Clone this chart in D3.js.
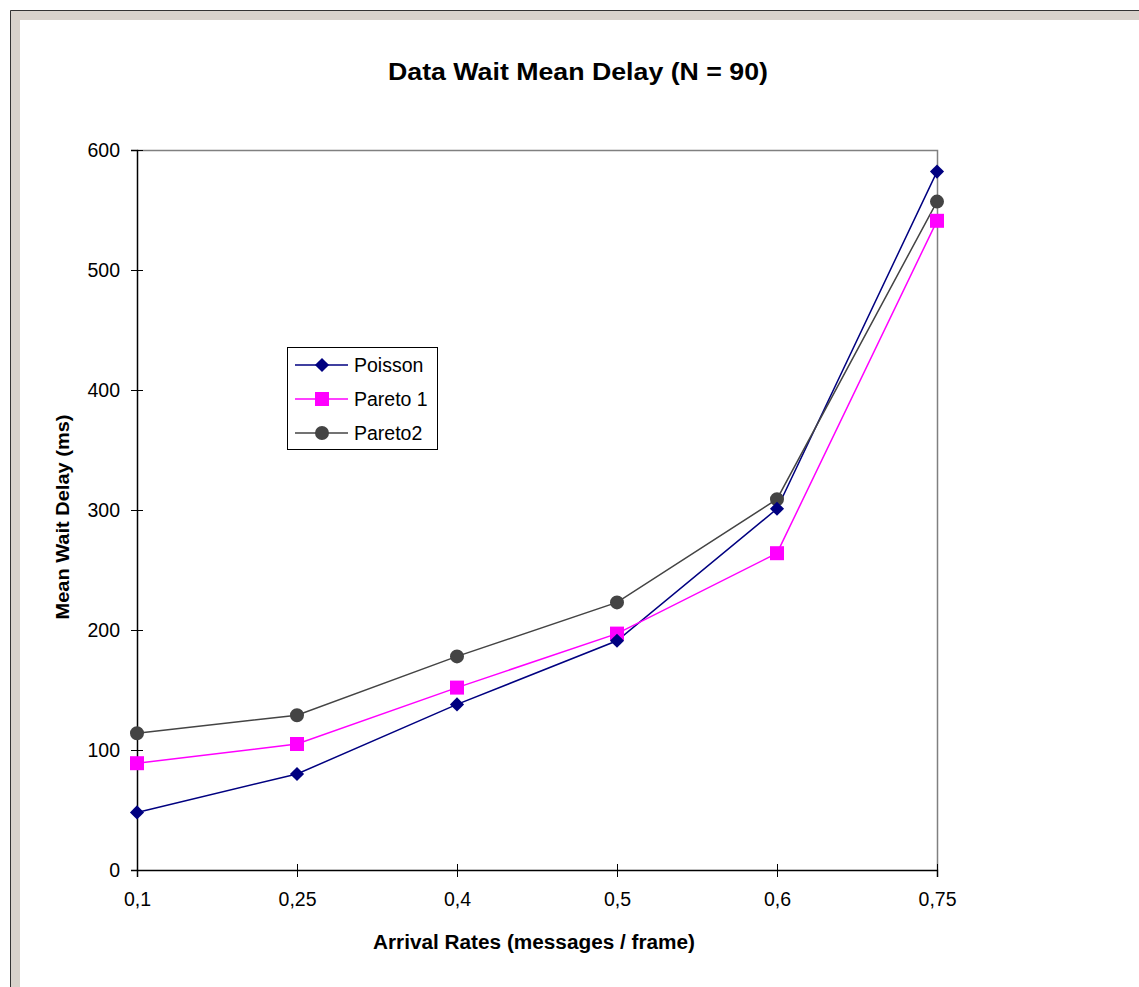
<!DOCTYPE html>
<html>
<head>
<meta charset="utf-8">
<script src="https://cdn.jsdelivr.net/npm/d3@7"></script>
<style>
    body { margin: 0; background: #fff; }
    svg { display: block; font-family: "Liberation Sans", Arial, sans-serif; }
</style>
</head>
<body>
<div id="chart"></div>
<script>

// Data
const rates = ["0,1", "0,25", "0,4", "0,5", "0,6", "0,75"];
const poisson = [48, 80, 138, 191, 301, 582];
const pareto1 = [89, 105, 152, 197, 264, 541];
const pareto2 = [114, 129, 178, 223, 309, 557];
const yTicks = [0, 100, 200, 300, 400, 500, 600];

const series = [
    { name: "Poisson", values: poisson, colour: "#000080", shape: d3.symbolSquare, size: 100, rotate: 45 },
    { name: "Pareto 1", values: pareto1, colour: "#ff00ff", shape: d3.symbolSquare, size: 196, rotate: 0 },
    { name: "Pareto2", values: pareto2, colour: "#444444", shape: d3.symbolCircle, size: 154, rotate: 0 }
];

const W = 1139, H = 987;
const margin = { top: 150, right: 202, bottom: 117, left: 137 };
const width = W - margin.left - margin.right;
const height = H - margin.top - margin.bottom;

const svg = d3.select("#chart")
    .append("svg")
    .attr("width", W)
    .attr("height", H);

// Window frame (top and left edges)
svg.append("rect").attr("x", 10).attr("y", 10).attr("width", W).attr("height", H)
    .attr("fill", "#d8d2cb");
svg.append("path").attr("d", `M10.5,${H} V10.5 H${W}`)
    .attr("fill", "none").attr("stroke", "#333").attr("stroke-width", 1);
svg.append("rect").attr("x", 20).attr("y", 20).attr("width", W).attr("height", H)
    .attr("fill", "#fff");

const g = svg.append("g")
    .attr("transform", `translate(${margin.left}, ${margin.top})`);

const x = d3.scalePoint()
    .domain(rates)
    .range([0, width])
    .padding(0);

const y = d3.scaleLinear()
    .domain([0, 600])
    .range([height, 0]);

// Plot border top/right in grey
g.append("path")
    .attr("d", `M0,0.5 H${width + 0.5} V${height}`)
    .attr("fill", "none")
    .attr("stroke", "#808080")
    .attr("stroke-width", 1.5);

// X axis
const xAxis = g.append("g")
    .attr("transform", `translate(0, ${height})`)
    .call(d3.axisBottom(x).tickSize(7).tickPadding(15));
xAxis.selectAll(".tick line").attr("y1", -6).attr("y2", 7).attr("stroke", "#000");
xAxis.select(".domain").attr("stroke", "#000").attr("stroke-width", 1.5);

// Y axis
const yAxis = g.append("g")
    .call(d3.axisLeft(y).tickValues(yTicks).tickSize(6).tickPadding(11));
yAxis.selectAll(".tick line").attr("x1", -6).attr("x2", 6).attr("stroke", "#000");
yAxis.select(".domain").attr("stroke", "#000").attr("stroke-width", 1.5);

g.selectAll(".tick text")
    .attr("font-size", 19.5)
    .attr("font-family", "Liberation Sans, Arial, sans-serif")
    .attr("fill", "#000");
yAxis.selectAll(".tick text").attr("dy", "0.35em");

// Lines and markers
const line = d3.line()
    .x((d, i) => x(rates[i]))
    .y((d) => y(d));

series.forEach((s) => {
    g.append("path")
        .datum(s.values)
        .attr("fill", "none")
        .attr("stroke", s.colour)
        .attr("stroke-width", 1.5)
        .attr("d", line);
});

series.slice().reverse().forEach((s) => {
    g.selectAll(null)
        .data(s.values)
        .enter()
        .append("path")
        .attr("d", d3.symbol().type(s.shape).size(s.size))
        .attr("transform", (d, i) => `translate(${x(rates[i])}, ${y(d)}) rotate(${s.rotate})`)
        .attr("fill", s.colour);
});

// Title and axis labels
svg.append("text")
    .attr("x", 578)
    .attr("y", 80)
    .attr("text-anchor", "middle")
    .attr("font-size", 24)
    .attr("font-weight", "bold")
    .attr("textLength", 380)
    .attr("lengthAdjust", "spacingAndGlyphs")
    .text("Data Wait Mean Delay (N = 90)");

svg.append("text")
    .attr("x", 534)
    .attr("y", 949)
    .attr("text-anchor", "middle")
    .attr("font-size", 20)
    .attr("font-weight", "bold")
    .attr("textLength", 322)
    .attr("lengthAdjust", "spacingAndGlyphs")
    .text("Arrival Rates (messages / frame)");

svg.append("text")
    .attr("transform", "translate(69, 517) rotate(-90)")
    .attr("text-anchor", "middle")
    .attr("font-size", 19)
    .attr("font-weight", "bold")
    .attr("textLength", 205)
    .attr("lengthAdjust", "spacingAndGlyphs")
    .text("Mean Wait Delay (ms)");

// Legend
const legend = svg.append("g")
    .attr("transform", "translate(287, 347)");
legend.append("rect")
    .attr("x", 0.5).attr("y", 0.5)
    .attr("width", 150).attr("height", 102)
    .attr("fill", "#fff")
    .attr("stroke", "#000");

series.forEach((s, i) => {
    const row = legend.append("g")
        .attr("transform", `translate(0, ${18 + i * 34})`);
    row.append("line")
        .attr("x1", 8).attr("x2", 61)
        .attr("stroke", s.colour)
        .attr("stroke-width", 1.5);
    row.append("path")
        .attr("d", d3.symbol().type(s.shape).size(s.size))
        .attr("transform", `translate(35, 0) rotate(${s.rotate})`)
        .attr("fill", s.colour);
    row.append("text")
        .attr("x", 67)
        .attr("dy", "0.35em")
        .attr("font-size", 19.5)
        .text(s.name);
});

</script>
</body>
</html>
